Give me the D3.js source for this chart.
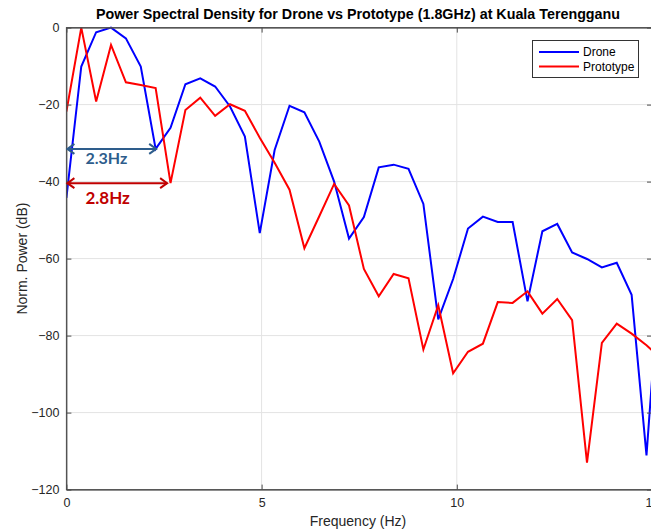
<!DOCTYPE html>
<html>
<head>
<meta charset="utf-8">
<script src="https://cdn.jsdelivr.net/npm/d3@7"></script>
<style>
  body { margin: 0; background: #fff; }
  svg { display: block; font-family: "Liberation Sans", Arial, sans-serif; }
</style>
</head>
<body>
<svg id="chart" width="651" height="531"></svg>
<script>
// PSD data
const freq = [0, 0.381, 0.762, 1.143, 1.524, 1.905, 2.286, 2.667, 3.048, 3.429,
  3.81, 4.191, 4.572, 4.953, 5.334, 5.715, 6.096, 6.477, 6.858, 7.239,
  7.62, 8.001, 8.382, 8.763, 9.144, 9.525, 9.906, 10.287, 10.668, 11.049,
  11.43, 11.811, 12.192, 12.573, 12.954, 13.335, 13.716, 14.097, 14.478, 14.859, 15.24];
const drone = [-44.2, -10.1, -1.2, 0, -2.8, -10.1, -31.5, -26.0, -14.7, -13.2,
  -15.3, -20.5, -28.3, -53.4, -31.8, -20.3, -22.0, -29.6, -40.0, -54.8,
  -49.2, -36.3, -35.6, -36.7, -45.8, -75.8, -65.3, -52.2, -49.1, -50.5,
  -50.5, -71.1, -52.9, -51.0, -58.4, -60.1, -62.3, -61.1, -69.4, -111.1, -58];
const prototype = [-21.8, 0, -19.2, -4.5, -14.2, -14.9, -15.7, -40.4, -21.4, -18.2,
  -22.9, -19.9, -21.6, -28.6, -35.1, -42.1, -57.3, -49.0, -40.6, -46.2,
  -62.7, -69.8, -64.0, -65.1, -83.6, -72.1, -89.8, -84.2, -82.1, -71.3,
  -71.5, -68.5, -74.3, -70.5, -76.0, -113.0, -81.9, -76.9, -79.5, -82.5, -86];

const seriesNames = ["Drone", "Prototype"];
const seriesColors = ["#0000ff", "#ff0000"];

const xTicks = [0, 5, 10, 15];
const yTicks = [0, -20, -40, -60, -80, -100, -120];

// bandwidth annotations (Hz span, level in dB)
const annLabels = ["2.3Hz", "2.8Hz"];
const annEnd = [2.3, 2.58];
const annLevel = [-31.5, -40.4];
const annColors = ["#2e5d8c", "#c00000"];

const width = 651, height = 531;
const margin = {top: 27.6, left: 66.4};
const plotW = 585.6, plotH = 462;

const svg = d3.select("#chart");

const x = d3.scaleLinear().domain([0, 15]).range([margin.left, margin.left + plotW]);
const y = d3.scaleLinear().domain([-120, 0]).range([margin.top + plotH, margin.top]);

// grid
svg.append("g").selectAll("line.vg")
  .data(xTicks.slice(1, -1))
  .join("line")
  .attr("x1", d => x(d)).attr("x2", d => x(d))
  .attr("y1", y(0)).attr("y2", y(-120))
  .attr("stroke", "#e3e3e3").attr("stroke-width", 1);
svg.append("g").selectAll("line.hg")
  .data(yTicks.slice(1, -1))
  .join("line")
  .attr("x1", x(0)).attr("x2", x(15))
  .attr("y1", d => y(d)).attr("y2", d => y(d))
  .attr("stroke", "#e3e3e3").attr("stroke-width", 1);

// clip
svg.append("clipPath").attr("id", "clip")
  .append("rect")
  .attr("x", x(0)).attr("y", y(0) - 4)
  .attr("width", plotW).attr("height", plotH + 4);

const line = d3.line().x((d, i) => x(freq[i])).y(d => y(d));

const plot = svg.append("g").attr("clip-path", "url(#clip)");
[drone, prototype].forEach((s, k) => {
  plot.append("path")
    .datum(s)
    .attr("fill", "none")
    .attr("stroke", seriesColors[k])
    .attr("stroke-width", 2)
    .attr("stroke-linejoin", "miter")
    .attr("d", line);
});

// axes (box with inward ticks)
const axisColor = "#4d4d4d";
svg.append("rect")
  .attr("x", x(0)).attr("y", y(0))
  .attr("width", plotW).attr("height", plotH)
  .attr("fill", "none").attr("stroke", axisColor).attr("stroke-width", 1);

const xAxis = svg.append("g")
  .attr("transform", `translate(0,${y(-120)})`)
  .call(d3.axisBottom(x).tickValues(xTicks).tickSizeInner(-5).tickSizeOuter(0).tickPadding(9));
const yAxis = svg.append("g")
  .attr("transform", `translate(${x(0)},0)`)
  .call(d3.axisLeft(y).tickValues(yTicks).tickSizeInner(-5).tickSizeOuter(0).tickPadding(7));
const xTop = svg.append("g")
  .attr("transform", `translate(0,${y(0)})`)
  .call(d3.axisTop(x).tickValues(xTicks).tickSizeInner(-5).tickSizeOuter(0).tickFormat(""));
const yRight = svg.append("g")
  .attr("transform", `translate(${x(15)},0)`)
  .call(d3.axisRight(y).tickValues(yTicks).tickSizeInner(-5).tickSizeOuter(0).tickFormat(""));

[xAxis, yAxis, xTop, yRight].forEach(g => {
  g.select(".domain").attr("stroke", axisColor);
  g.selectAll(".tick line").attr("stroke", axisColor);
  g.selectAll(".tick text")
    .attr("fill", "#262626")
    .attr("font-size", 12.5)
    .attr("font-family", "Liberation Sans, Arial, sans-serif");
});

// annotations
annLabels.forEach((lab, k) => {
  const g = svg.append("g").attr("stroke", annColors[k]).attr("stroke-width", 2).attr("fill", "none");
  const x0 = x(0) + 1, x1 = x(annEnd[k]), yy = y(annLevel[k]);
  g.append("line").attr("x1", x0).attr("x2", x1).attr("y1", yy).attr("y2", yy);
  g.append("path").attr("d", `M${x0 + 7},${yy - 5}L${x0},${yy}L${x0 + 7},${yy + 5}`);
  g.append("path").attr("d", `M${x1 - 7},${yy - 5}L${x1},${yy}L${x1 - 7},${yy + 5}`);
  svg.append("text")
    .attr("x", x(0) + 19)
    .attr("y", yy + (k === 0 ? 15 : 21))
    .attr("fill", annColors[k])
    .attr("font-family", "Lato, 'Open Sans', sans-serif")
    .attr("font-weight", "bold")
    .attr("font-size", k === 0 ? 16 : 17)
    .text(lab);
});

// title and labels
svg.append("text")
  .attr("x", 358).attr("y", 19)
  .attr("text-anchor", "middle")
  .attr("font-weight", "bold")
  .attr("font-size", 14.3)
  .attr("fill", "#000")
  .text("Power Spectral Density for Drone vs Prototype (1.8GHz) at Kuala Terengganu");

svg.append("text")
  .attr("x", 358).attr("y", 526)
  .attr("text-anchor", "middle")
  .attr("font-size", 14)
  .attr("fill", "#262626")
  .text("Frequency (Hz)");

svg.append("text")
  .attr("transform", `translate(27,${(y(0) + y(-120)) / 2}) rotate(-90)`)
  .attr("text-anchor", "middle")
  .attr("font-size", 14)
  .attr("fill", "#262626")
  .text("Norm. Power (dB)");

// legend
const lg = svg.append("g");
lg.append("rect")
  .attr("x", 532.5).attr("y", 40.5).attr("width", 106).attr("height", 37)
  .attr("fill", "#fff").attr("stroke", "#333").attr("stroke-width", 1);
seriesNames.forEach((n, k) => {
  const ly = 52 + k * 14.5;
  lg.append("line")
    .attr("x1", 539).attr("x2", 579).attr("y1", ly).attr("y2", ly)
    .attr("stroke", seriesColors[k]).attr("stroke-width", 2);
  lg.append("text")
    .attr("x", 583).attr("y", ly + 4)
    .attr("font-size", 12)
    .attr("fill", "#000")
    .text(n);
});
</script>
</body>
</html>
